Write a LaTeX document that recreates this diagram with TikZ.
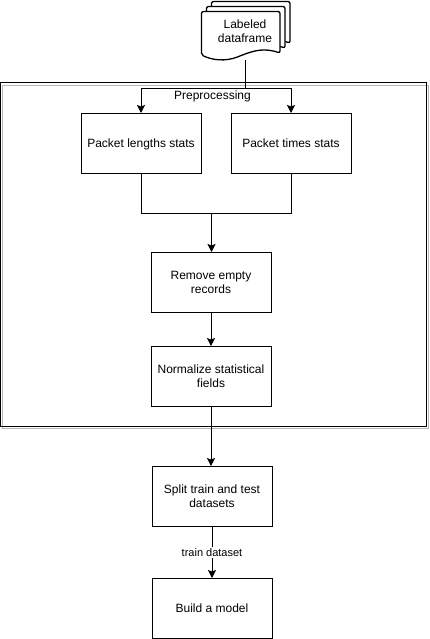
\documentclass[tikz,border=0pt]{standalone}
\usepackage{fontspec}
\setmainfont{Liberation Sans}
\usetikzlibrary{arrows.meta}

\begin{document}
\begin{tikzpicture}[x=1pt,y=-1pt,font=\fontsize{12}{14}\selectfont]

	\tikzstyle{mybox}=[draw,line width=1pt,minimum width=120pt,minimum height=60pt,align=center,inner sep=0pt]
	\tikzstyle{myone}=[text height=10pt,text depth=2pt]
	\tikzstyle{mylabel}=[align=center,inner sep=1pt]
	\tikzstyle{myarrow}=[line width=1pt,-{Stealth[width=8pt,length=8pt,inset=1.5pt]}]
	\tikzstyle{myline}=[line width=1pt]
	\tikzstyle{mysheet}=[draw,line width=1.3pt,fill=white,rounded corners=2pt]

	\useasboundingbox (0,0) rectangle (429,639);

	% frame of the preprocessing part
	\draw[line width=1pt,black!28] (2.5,85.5) rectangle (428,428.5);
	\draw[myline] (0.5,82.5) rectangle (426,426);

	% stacked sheets
	\foreach \d in {10,5,0}{
		\draw[mysheet] ({201.5+\d},{11.5-\d}) -- ({280+\d},{11.5-\d}) -- ({280+\d},{53-\d})
			.. controls ({265+\d},{48-\d}) and ({255+\d},{50-\d}) .. ({240+\d},{56-\d})
			.. controls ({225+\d},{62-\d}) and ({212+\d},{60-\d}) .. ({201.5+\d},{55-\d}) -- cycle;
	}
	\node[mylabel] (dataframe) at (245,31) {Labeled\\dataframe};
	\coordinate (dataframeout) at (245.5,60.5);
	\coordinate (fork) at (245.5,88.5);

	\node[mylabel,myone] (preprocessing) at (212.5,96) {Preprocessing};

	\node[mybox,myone] (lengths) at (141,143.5) {Packet lengths stats};
	\node[mybox,myone] (times) at (291,143.5) {Packet times stats};
	\node[mybox] (empty) at (211,282.5) {Remove empty\\records};
	\node[mybox] (normalize) at (211,376.5) {Normalize statistical\\fields};
	\node[mybox] (split) at (212,496.5) {Split train and test\\datasets};
	\node[mybox,myone] (model) at (212,608.5) {Build a model};

	\coordinate (join) at (211.5,213.5);

	\draw[myline] (dataframeout) -- (fork);
	\draw[myarrow] (fork) -| (lengths.north);
	\draw[myarrow] (fork) -| (times.north);

	\draw[myline] (lengths.south) |- (join);
	\draw[myline] (times.south) |- (join);
	\draw[myarrow] (join) -- (join |- empty.north);

	\draw[myarrow] (empty) -- (normalize);
	\draw[myarrow] (normalize) -- (normalize |- split.north);
	\draw[myarrow] (split) -- node[fill=white,mylabel,font=\fontsize{11}{13}\selectfont] (train) {train dataset} (model);

\end{tikzpicture}
\end{document}
